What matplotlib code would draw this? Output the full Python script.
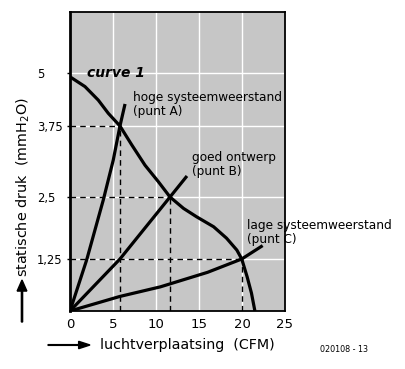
import numpy as np
import matplotlib.pyplot as plt
from matplotlib.patches import FancyArrow

plt.rcParams['font.family'] = ['DejaVu Sans']

# fan curve ("curve 1")
curve_x = [0, 1.74, 3.29, 4.45, 5.81, 7.17, 8.72, 10.27, 11.63, 13.2, 14.73,
           16.7, 18.2, 19.4, 19.97, 20.6, 21.1, 21.5]
curve_y = [4.91, 4.68, 4.36, 4.05, 3.75, 3.42, 3.06, 2.77, 2.5, 2.27, 2.10,
           1.90, 1.67, 1.43, 1.25, 0.82, 0.43, 0]

# system resistance lines
sys_a_x = [0, 1.94, 3.87, 5.03, 5.81, 6.4]
sys_a_y = [0, 1.23, 2.44, 3.15, 3.75, 4.27]
sys_b_x = [0, 5.81, 11.63, 13.6]
sys_b_y = [0, 1.25, 2.5, 2.87]
sys_c_x = [0, 5.8, 10.5, 16.0, 19.97, 22.4]
sys_c_y = [0, 0.35, 0.58, 0.93, 1.25, 1.52]

# operating points A, B, C
op_x = [5.81, 11.63, 19.97]
op_y = [3.75, 2.5, 1.25]

xticks = [0, 5, 10, 15, 20, 25]
yticks = [1.25, 2.5, 3.75, 5]
ytick_labels = ['1,25', '2,5', '3,75', '5']

# the hand drawn y axis is not evenly spaced
knots_val = [-1, 0, 1.25, 2.5, 3.75, 5, 6.28, 8]
knots_pix = [-47.6, 0, 52, 114, 185, 238, 299, 381]
fwd = lambda v: np.interp(v, knots_val, knots_pix)
inv = lambda p: np.interp(p, knots_pix, knots_val)

fig = plt.figure(figsize=(4.06, 3.69), dpi=100)
ax = fig.add_axes([70/406, 1-311/369, 215/406, 299/369])
ax.set_yscale('function', functions=(fwd, inv))
ax.set_xlim(0, 25)
ax.set_ylim(0, 6.28)
ax.set_facecolor('#c6c6c6')

ax.set_xticks(xticks)
ax.set_yticks(yticks)
ax.set_yticklabels(ytick_labels)
ax.yaxis.set_minor_locator(plt.NullLocator())
ax.grid(True, color='white', lw=1)
ax.set_axisbelow(True)
ax.tick_params(axis='x', length=0, pad=5, labelsize=9.5)
ax.tick_params(axis='y', length=2, width=1, pad=21.7, labelsize=8.3)
for lbl in ax.get_yticklabels():
    lbl.set_horizontalalignment('left')
for s in ax.spines.values():
    s.set_linewidth(1.3)
ax.spines['left'].set_linewidth(2)

# dashed guides to the operating points
for x, y in zip(op_x, op_y):
    ax.plot([0, x], [y, y], color='black', lw=1, ls=(0, (4, 3)))
    ax.plot([x, x], [0, y], color='black', lw=1, ls=(0, (4, 3)))

for xs, ys in [(curve_x, curve_y), (sys_a_x, sys_a_y), (sys_b_x, sys_b_y), (sys_c_x, sys_c_y)]:
    ax.plot(xs, ys, color='black', lw=2.3, solid_capstyle='butt', solid_joinstyle='round')

fig.text(87/406, 1-73/369, 'curve 1', fontsize=10, fontweight='bold', style='italic', va='center')
fig.text(133/406, 1-97/369, 'hoge systeemweerstand', fontsize=8.7, va='center')
fig.text(133/406, 1-111/369, '(punt A)', fontsize=8.7, va='center')
fig.text(192/406, 1-157/369, 'goed ontwerp', fontsize=8.7, va='center')
fig.text(192/406, 1-171/369, '(punt B)', fontsize=8.7, va='center')
fig.text(247/406, 1-225/369, 'lage systeemweerstand', fontsize=8.7, va='center')
fig.text(247/406, 1-239/369, '(punt C)', fontsize=8.7, va='center')

fig.text(100/406, 1-345/369, 'luchtverplaatsing  (CFM)', fontsize=10.3, va='center')
fig.text(23/406, 1-187/369, 'statische druk  (mmH$_2$O)', fontsize=10.4, va='center', ha='center', rotation=90)
fig.text(320/406, 1-350/369, '020108 - 13', fontsize=5.8, va='center')

fig.patches.append(FancyArrow(48/406, 1-345/369, 42/406, 0, width=0.002, head_width=0.02,
                              head_length=0.028, length_includes_head=True, color='black',
                              transform=fig.transFigure))
fig.patches.append(FancyArrow(22/406, 1-322/369, 0, 42/369, width=0.003, head_width=0.024,
                              head_length=0.03, length_includes_head=True, color='black',
                              transform=fig.transFigure))

fig.savefig('out.png', dpi=100, facecolor='white')
